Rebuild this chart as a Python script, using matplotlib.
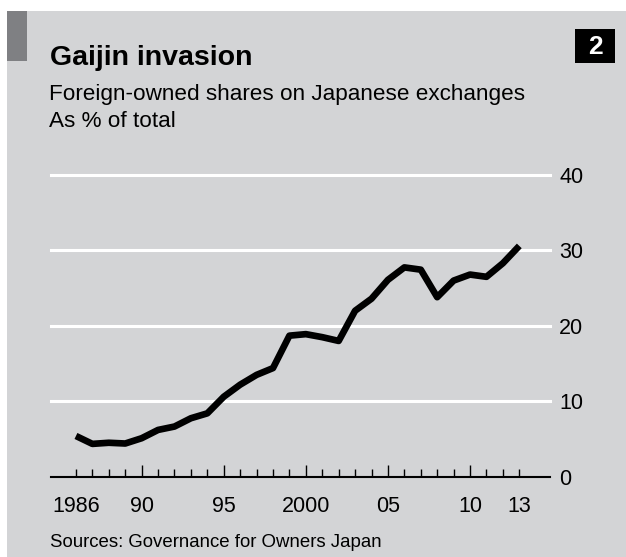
import matplotlib
matplotlib.use("Agg")
import matplotlib.pyplot as plt
from matplotlib.patches import Rectangle

plt.rcParams['font.family'] = ['Liberation Sans', 'DejaVu Sans']

# Foreign-owned shares on Japanese exchanges, % of total
years = list(range(1986, 2014))
share = [5.4, 4.35, 4.5, 4.4, 5.1, 6.2, 6.65, 7.75, 8.4, 10.6,
         12.2, 13.5, 14.4, 18.7, 18.9, 18.5, 18.0, 22.0, 23.6, 26.1,
         27.75, 27.45, 23.8, 26.0, 26.8, 26.5, 28.3, 30.6]

label_years = [1986, 1990, 1995, 2000, 2005, 2010, 2013]
label_text = ["1986", "90", "95", "2000", "05", "10", "13"]
y_ticks = [0, 10, 20, 30, 40]

W, H = 626, 557
BG = "#d3d4d6"

fig = plt.figure(figsize=(W / 100, H / 100), dpi=100)
fig.patch.set_facecolor("white")


def fx(px):
    return px / W


def fy(py):
    return 1 - py / H


# grey panel and the dark tab at the top left
fig.patches.append(Rectangle((fx(7), 0), 1 - fx(7), fy(11), transform=fig.transFigure,
                             facecolor=BG, edgecolor="none", zorder=-2))
fig.patches.append(Rectangle((fx(7), fy(61)), fx(20), (61 - 11) / H, transform=fig.transFigure,
                             facecolor="#7f8083", edgecolor="none", zorder=-1))
# chart number box
fig.patches.append(Rectangle((fx(575), fy(63)), fx(40), 34 / H, transform=fig.transFigure,
                             facecolor="black", edgecolor="none", zorder=-1))
fig.text(fx(595), fy(46.5), "2", color="white", fontsize=19, fontweight="bold",
         ha="center", va="center")

fig.text(fx(50), fy(65), "Gaijin invasion", fontsize=20.5, fontweight="bold", va="baseline")
fig.text(fx(49), fy(100), "Foreign-owned shares on Japanese exchanges", fontsize=16.2, va="baseline")
fig.text(fx(49), fy(127), "As % of total", fontsize=16.2, va="baseline")
fig.text(fx(50), fy(547), "Sources: Governance for Owners Japan", fontsize=13.4, va="baseline")

# plot area: x from 51 to 550 px, y=0 at 476.7 px, y=40 at 175 px
ax = fig.add_axes([fx(51), (H - 476.7) / H, (550 - 51) / W, (476.7 - 175) / H])
ax.set_zorder(2)
ax.set_facecolor("none")
ax.set_xlim(1984.48, 2014.87)
ax.set_ylim(0, 40)

for v in y_ticks[1:]:
    ax.axhline(v, color="white", lw=2.2, zorder=1, clip_on=False)

ax.plot(years, share, color="black", lw=4.8, solid_joinstyle="round",
        solid_capstyle="butt", zorder=3)

for side in ["top", "left", "right"]:
    ax.spines[side].set_visible(False)
ax.spines["bottom"].set_linewidth(1.5)
ax.spines["bottom"].set_color("black")

ax.set_xticks(label_years)
ax.set_xticklabels(label_text)
ax.set_xticks([y for y in years if y not in label_years], minor=True)
ax.tick_params(axis="x", which="major", direction="in", length=8.6, width=1,
               pad=14, labelsize=15.5, color="black")
ax.tick_params(axis="x", which="minor", direction="in", length=5.8, width=1, color="black")
# end years get the short tick like the minor years
for t in (ax.xaxis.get_major_ticks()[0], ax.xaxis.get_major_ticks()[-1]):
    t.tick1line.set_markersize(5.8)

ax.yaxis.tick_right()
ax.set_yticks(y_ticks)
ax.tick_params(axis="y", length=0, pad=6.5, labelsize=15.5)
for lbl in ax.get_yticklabels():
    lbl.set_horizontalalignment("left")

fig.savefig("out.png", dpi=100, facecolor=fig.get_facecolor())
